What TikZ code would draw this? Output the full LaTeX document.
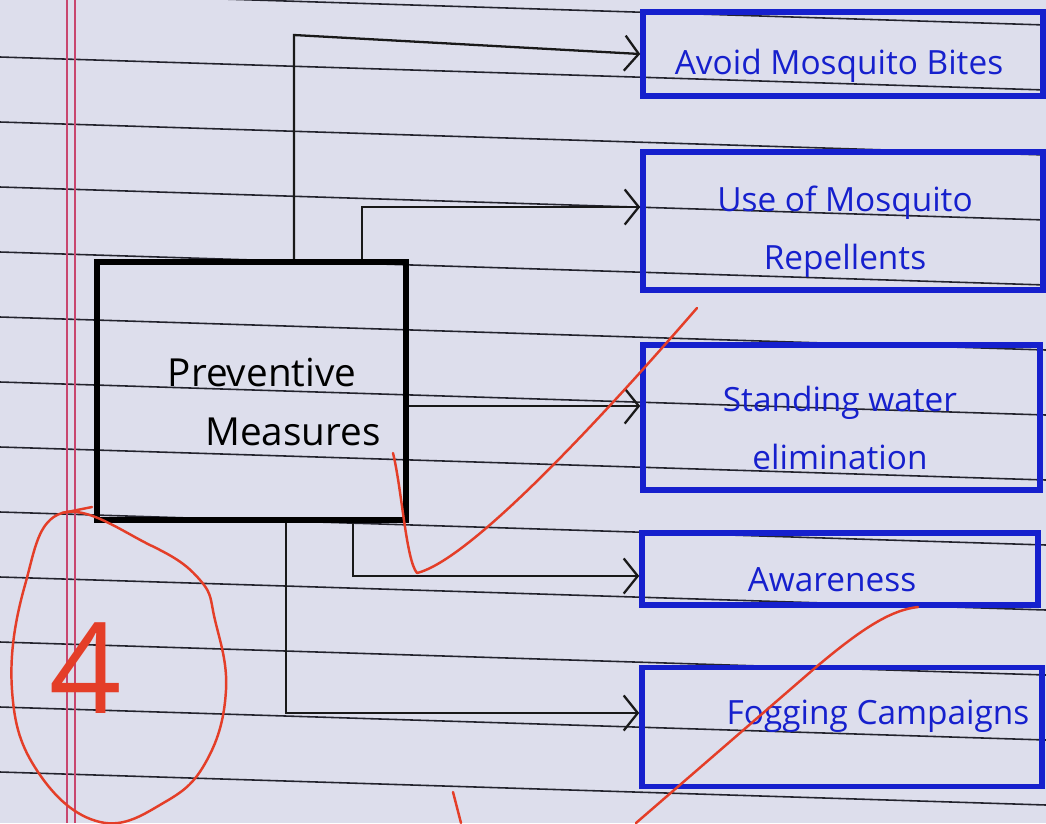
\documentclass[tikz,border=0pt]{standalone}
\usepackage{fontspec}
\setmainfont{Open Sans}
\usetikzlibrary{arrows.meta}
\definecolor{paper}{RGB}{221,222,236}
\definecolor{rule}{RGB}{35,35,45}
\definecolor{margin}{RGB}{200,70,110}
\definecolor{penblue}{RGB}{22,32,205}
\definecolor{pencil}{RGB}{25,25,25}
\definecolor{marker}{RGB}{228,62,40}
\tikzset{
  mainbox/.style={draw=black, line width=3.6pt, minimum width=6.18cm, minimum height=5.16cm, inner sep=0pt},
  leafbox/.style={draw=penblue, line width=3.2pt, inner sep=0pt},
  leaftext/.style={text=penblue, font=\fontsize{19}{33}\selectfont, align=center, inner sep=0pt},
  maintext/.style={text=black, font=\fontsize{22}{34}\selectfont, align=center, inner sep=0pt},
  conn/.style={draw=pencil, line width=1.3pt, -{Straight Barb[length=8pt,width=20pt,line width=1.3pt]}},
  redmark/.style={draw=marker, line width=1.4pt, line cap=round, line join=round},
  ruled/.style={draw=rule, line width=0.9pt}
}
\begin{document}
\begin{tikzpicture}[x=0.02cm,y=-0.02cm]
\useasboundingbox (0,0) rectangle (1046,823);
% paper
\fill[paper] (0,0) rectangle (1046,823);
\foreach \k in {0,...,12}{
  \draw[ruled] (0,{-8+65*\k}) -- (1046,{25+65*\k});
}
\draw[margin, line width=0.7pt] (67,0) -- (67,823);
\draw[margin, line width=0.7pt] (75,0) -- (75,823);

% boxes
\node[mainbox] (pm) at (251.5,391) {};
\node[leafbox, minimum width=8cm, minimum height=1.68cm] (b1) at (843,54) {};
\node[leafbox, minimum width=8cm, minimum height=2.76cm] (b2) at (843,221) {};
\node[leafbox, minimum width=7.94cm, minimum height=2.9cm] (b3) at (841.5,417.5) {};
\node[leafbox, minimum width=7.92cm, minimum height=1.44cm] (b4) at (840,569) {};
\node[leafbox, minimum width=8cm, minimum height=2.38cm] (b5) at (842,727) {};

% texts
\node[maintext] (pmt) at (262,402) {Preventive\\\hspace*{1.6em}Measures};
\node[leaftext] (b1t) at (839,66) {Avoid Mosquito Bites};
\node[leaftext] (b2t) at (845,232) {Use of Mosquito\\Repellents};
\node[leaftext] (b3t) at (840,428) {Standing water\\elimination};
\node[leaftext] (b4t) at (832,580) {Awareness};
\node[leaftext] (b5t) at (878,716) {Fogging Campaigns};

% connectors
\coordinate (t1) at (294,35);
\coordinate (t2) at (362,207);
\coordinate (t3) at (406,406);
\coordinate (t4) at (353,576);
\coordinate (t5) at (286,713);
\draw[conn] (pm.north -| t1) -- (t1) -- (b1.west);
\draw[conn] (pm.north -| t2) -- (t2) -- (b2.west |- t2);
\draw[conn] (pm.east |- t3) -- (b3.west |- t3);
\draw[conn] (pm.south -| t4) -- (t4) -- (b4.west |- t4);
\draw[conn] (pm.south -| t5) -- (t5) -- (b5.west |- t5);

% teacher's red marks
\draw[redmark] (393,453) .. controls (402,490) and (406,560) .. (417,573)
  .. controls (470,560) and (600,420) .. (697,308);
\draw[redmark] (636,823) -- (815,668) .. controls (860,630) and (890,610) .. (918,607);
\draw[redmark] (453,792) -- (461,823);
\draw[redmark] (92,507) -- (62,513);
\draw[redmark] plot[smooth cycle, tension=0.7] coordinates {(62,513) (25,585) (12,690) (38,772) (100,822) (165,802) (207,760) (226,690) (215,620) (200,580) (150,545)};
\node[text=marker, font=\fontsize{72}{72}\selectfont, inner sep=0pt] (grade) at (86,668) {4};
\end{tikzpicture}
\end{document}
